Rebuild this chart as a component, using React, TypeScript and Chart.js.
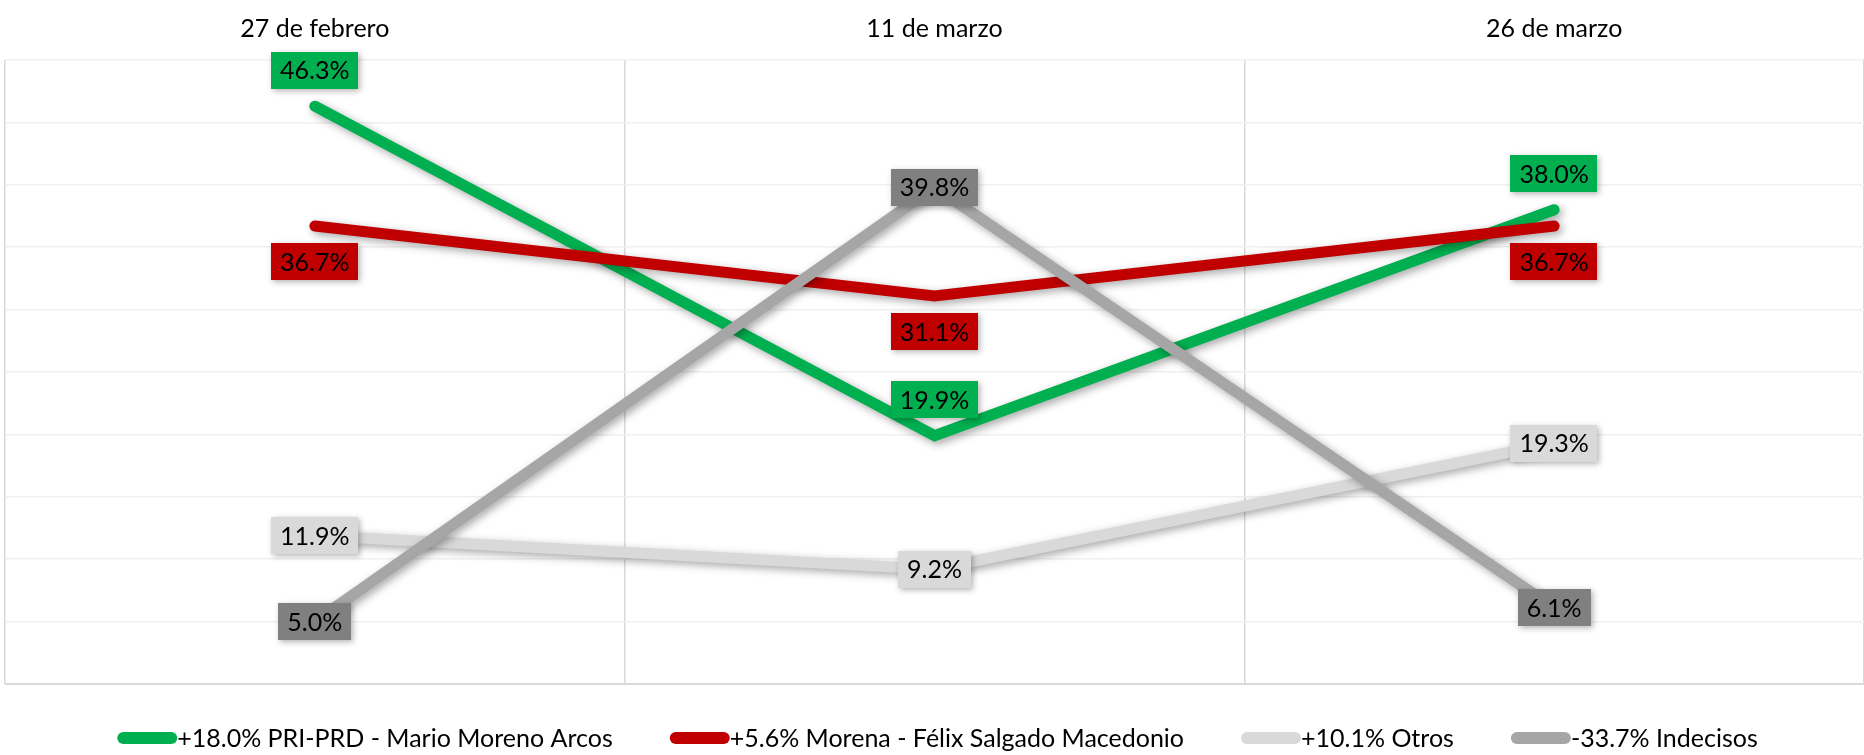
import React, { useEffect, useRef } from "react";
import { Chart, registerables } from "chart.js";

Chart.register(...registerables);

const categories = ["27 de febrero", "11 de marzo", "26 de marzo"];
const priPrd = [46.3, 19.9, 38.0];
const morena = [36.7, 31.1, 36.7];
const otros = [11.9, 9.2, 19.3];
const indecisos = [5.0, 39.8, 6.1];
const seriesNames = [
  "+18.0% PRI-PRD - Mario Moreno Arcos",
  "+5.6% Morena - Félix Salgado Macedonio",
  "+10.1% Otros",
  "-33.7% Indecisos",
];
const yMin = 0;
const yMax = 50;
const yStep = 5;

const lineColors = ["#00B050", "#C00000", "#D9D9D9", "#A6A6A6"];
const boxColors = ["#00B050", "#C00000", "#D9D9D9", "#808080"];
const labelPlacement = ["above", "below", "center", "center"];

const FONT = "Lato, 'Noto Sans', sans-serif";
const FONT_SIZE = 25;

const shadowPlugin = {
  id: "lineShadow",
  beforeDatasetDraw(chart: any) {
    const ctx = chart.ctx;
    ctx.save();
    ctx.shadowColor = "rgba(0,0,0,0.35)";
    ctx.shadowBlur = 8;
    ctx.shadowOffsetX = 3;
    ctx.shadowOffsetY = 3;
  },
  afterDatasetDraw(chart: any) {
    chart.ctx.restore();
  },
};

const labelPlugin = {
  id: "valueBoxes",
  afterDatasetsDraw(chart: any) {
    const ctx = chart.ctx;
    ctx.save();
    ctx.font = `${FONT_SIZE}px ${FONT}`;
    ctx.textAlign = "center";
    ctx.textBaseline = "middle";
    chart.data.datasets.forEach((ds: any, i: number) => {
      const meta = chart.getDatasetMeta(i);
      meta.data.forEach((pt: any, j: number) => {
        const v = ds.data[j];
        const text = v.toFixed(1) + "%";
        const tw = ctx.measureText(text).width;
        const w = tw + 18;
        const h = 37;
        let cy = pt.y;
        if (labelPlacement[i] === "above") cy = pt.y - 36;
        if (labelPlacement[i] === "below") cy = pt.y + 36;
        const x0 = Math.round(pt.x - w / 2);
        const y0 = Math.round(cy - h / 2);
        ctx.save();
        ctx.shadowColor = "rgba(0,0,0,0.3)";
        ctx.shadowBlur = 6;
        ctx.shadowOffsetX = 2;
        ctx.shadowOffsetY = 2;
        ctx.fillStyle = boxColors[i];
        ctx.fillRect(x0, y0, Math.round(w), h);
        ctx.restore();
        ctx.fillStyle = "#000";
        ctx.fillText(text, pt.x, cy + 1);
      });
    });
    ctx.restore();
  },
};

const legendPlugin = {
  id: "customLegend",
  afterDraw(chart: any) {
    const ctx = chart.ctx;
    ctx.save();
    ctx.font = `${FONT_SIZE}px ${FONT}`;
    ctx.textBaseline = "middle";
    ctx.textAlign = "left";
    const sampleW = 60;
    const gap = 57;
    const widths = seriesNames.map((n) => ctx.measureText(n).width);
    const total =
      widths.reduce((a, b) => a + b, 0) + sampleW * seriesNames.length + gap * (seriesNames.length - 1);
    const center = (chart.chartArea.left + chart.width) / 2 + 3;
    let x = center - total / 2;
    const y = 738;
    seriesNames.forEach((name, i) => {
      ctx.strokeStyle = lineColors[i];
      ctx.lineWidth = 12;
      ctx.lineCap = "round";
      ctx.beginPath();
      ctx.moveTo(x + 6, y);
      ctx.lineTo(x + sampleW - 6, y);
      ctx.stroke();
      ctx.fillStyle = "#000";
      ctx.fillText(name, x + sampleW, y + 1);
      x += sampleW + widths[i] + gap;
    });
    ctx.restore();
  },
};

export default function App() {
  const ref = useRef<HTMLCanvasElement>(null);
  useEffect(() => {
    document.body.style.margin = "0";
    const seriesData = [priPrd, morena, otros, indecisos];
    const chart = new Chart(ref.current as HTMLCanvasElement, {
      type: "line",
      data: {
        labels: categories,
        datasets: seriesData.map((d, i) => ({
          label: seriesNames[i],
          data: d,
          borderColor: lineColors[i],
          backgroundColor: lineColors[i],
          borderWidth: 11,
          pointRadius: 0,
          tension: 0,
          borderCapStyle: "round",
          borderJoinStyle: "miter",
          order: seriesData.length - i,
        })),
      },
      options: {
        animation: false,
        responsive: false,
        devicePixelRatio: 1,
        layout: { padding: { left: 5, right: 0, top: 0, bottom: 71 } },
        plugins: { legend: { display: false }, tooltip: { enabled: false } },
        scales: {
          x: {
            position: "top",
            offset: true,
            grid: { offset: true, color: "#D9D9D9", lineWidth: 1.5, drawTicks: false },
            border: { display: false },
            ticks: { color: "#000", font: { family: FONT, size: FONT_SIZE }, padding: 16 },
            afterFit: (s: any) => {
              s.height = 60;
            },
          },
          y: {
            min: yMin,
            max: yMax,
            ticks: { stepSize: yStep, display: false },
            grid: {
              color: (c: any) => (c.tick && c.tick.value === 0 ? "#D9D9D9" : "#F0F0F0"),
              lineWidth: (c: any) => (c.tick && c.tick.value === 0 ? 2 : 1.5),
              drawTicks: false,
            },
            border: { display: false },
            afterFit: (s: any) => {
              s.width = 0;
            },
          },
        },
      } as any,
      plugins: [shadowPlugin, labelPlugin, legendPlugin],
    });
    return () => chart.destroy();
  }, []);
  return (
    <div style={{ width: 1864, height: 755 }}>
      <canvas ref={ref} width={1864} height={755} style={{ display: "block" }} />
    </div>
  );
}
